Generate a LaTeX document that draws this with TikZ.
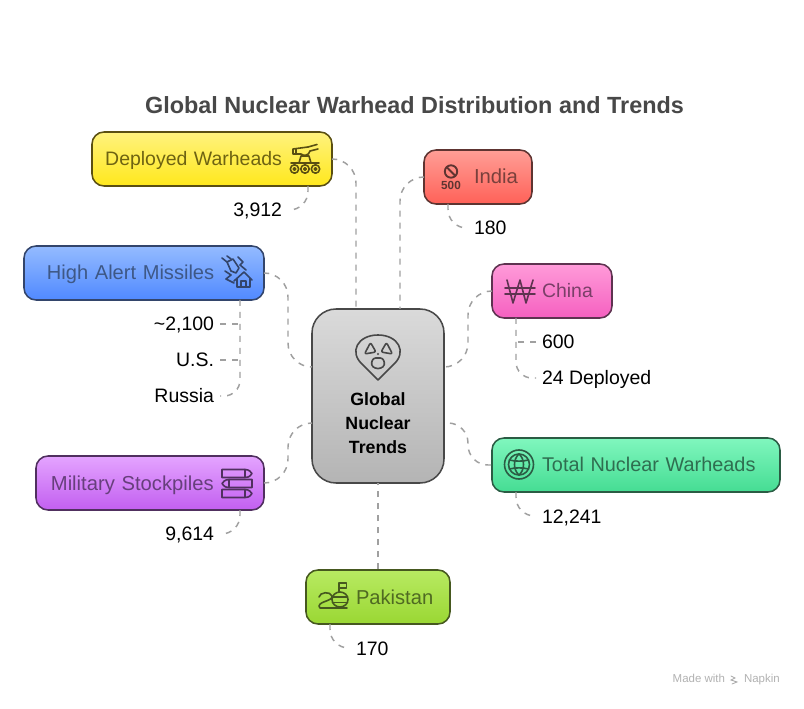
\documentclass[tikz,border=0pt]{standalone}
\usepackage{fontspec}
\setmainfont{Liberation Sans}
\begin{document}
\definecolor{yT}{HTML}{FFF27E}\definecolor{yB}{HTML}{FFE81C}\definecolor{yD}{HTML}{5A4F12}\definecolor{yX}{HTML}{6E6312}
\definecolor{rT}{HTML}{FF9E96}\definecolor{rB}{HTML}{FF6158}\definecolor{rD}{HTML}{5E3431}\definecolor{rX}{HTML}{7A403C}
\definecolor{bT}{HTML}{94BBFF}\definecolor{bB}{HTML}{5089FF}\definecolor{bD}{HTML}{33456B}\definecolor{bX}{HTML}{3E5886}
\definecolor{pT}{HTML}{FF9BD9}\definecolor{pB}{HTML}{F560C0}\definecolor{pD}{HTML}{5E3350}\definecolor{pX}{HTML}{7A3F68}
\definecolor{vT}{HTML}{E4A4FF}\definecolor{vB}{HTML}{C25FF0}\definecolor{vD}{HTML}{50305F}\definecolor{vX}{HTML}{673F7C}
\definecolor{gT}{HTML}{80F7BE}\definecolor{gB}{HTML}{45DC93}\definecolor{gD}{HTML}{2B5C44}\definecolor{gX}{HTML}{2F6E50}
\definecolor{lT}{HTML}{B8EA62}\definecolor{lB}{HTML}{9AD733}\definecolor{lD}{HTML}{46581F}\definecolor{lX}{HTML}{4F6A22}
\definecolor{cT}{HTML}{DADADA}\definecolor{cB}{HTML}{B4B4B4}\definecolor{cD}{HTML}{484848}
\definecolor{conngray}{HTML}{A0A0A0}\definecolor{titlegray}{HTML}{484848}
\tikzset{
  basebox/.style={rectangle,rounded corners=9pt,line width=1.15pt,inner sep=0pt,align=left,
    text height=10.5pt,text depth=0pt,font=\fontsize{14.6}{17}\selectfont},
  tone/.style n args={3}{top color=#1T,bottom color=#1B,draw=#1D,text=#1X,minimum width=#2*0.75pt,minimum height=#3*0.75pt},
  conn/.style={draw=conngray,line width=1.1pt,dash pattern=on 4.5pt off 4.5pt},
  sub/.style={inner sep=0pt,text height=10.5pt,text depth=0pt,font=\fontsize{14.6}{17}\selectfont,text=black},
  subL/.style={sub,anchor=east,outer xsep=4.5pt},
  subR/.style={sub,anchor=west,outer xsep=4.5pt},
  ico/.style={line width=1.2pt,line cap=round,line join=round},
}
\begin{tikzpicture}[x=0.75pt,y=-0.75pt]
\useasboundingbox (0,0) rectangle (804,709);
\fill[white] (0,0) rectangle (804,709);
% ---------- title
\node[inner sep=0pt,text=titlegray,font=\bfseries\fontsize{17.55}{20}\selectfont] (title) at (414.5,105.5) {Global Nuclear Warhead Distribution and Trends};
% ---------- helper coordinates
\coordinate (cTa) at (356,309);
\coordinate (cTb) at (400,309);
\coordinate (cLa) at (312,367);
\coordinate (cLb) at (312,423);
\coordinate (cRa) at (444,367);
\coordinate (cRb) at (444,423);
\coordinate (cBa) at (378,483);
\coordinate (xL) at (288,396);
\coordinate (xR) at (468,396);
\coordinate (depS) at (308,186);
\coordinate (higS) at (240,300);
\coordinate (milS) at (240,510);
\coordinate (indS) at (448,204);
\coordinate (chiS) at (516,318);
\coordinate (totS) at (516,492);
\coordinate (pakS) at (330,624);
% ---------- side labels
\node[subL] (n3912) at (288,210) {3,912};
\node[subL] (n2100) at (220,324) {\textasciitilde 2,100};
\node[subL] (nUS) at (220,360) {U.S.};
\node[subL] (nRu) at (220,396) {Russia};
\node[subL] (n9614) at (220,534) {9,614};
\node[subR] (n180) at (468,228) {180};
\node[subR] (n600) at (536,342) {600};
\node[subR] (n24) at (536,378) {24 Deployed};
\node[subR] (n12) at (536,516) {12,241};
\node[subR] (n170) at (350,648) {170};
% ---------- boxes
\node[basebox,tone={y}{240}{54},text width=180pt] (dep) at (212,159) {\hspace*{9.9pt}Deployed Warheads};
\node[basebox,tone={r}{108}{54},text width=81pt,font=\fontsize{15.2}{17}\selectfont] (ind) at (478,177) {\hspace*{37.5pt}India};
\node[basebox,tone={b}{240}{54},text width=180pt,font=\fontsize{15.05}{17}\selectfont] (hig) at (144,273) {\hspace*{17.2pt}High Alert Missiles};
\node[basebox,tone={p}{120}{54},text width=90pt] (chi) at (552,291) {\hspace*{37.5pt}China};
\node[basebox,tone={v}{228}{54},text width=171pt,font=\fontsize{15.15}{17}\selectfont] (mil) at (150,483) {\hspace*{11.2pt}Military Stockpiles};
\node[basebox,tone={g}{288}{54},text width=216pt,font=\fontsize{14.9}{17}\selectfont] (tot) at (636,465) {\hspace*{37.5pt}Total Nuclear Warheads};
\node[basebox,tone={l}{144}{54},text width=108pt,font=\fontsize{15.1}{17}\selectfont] (pak) at (378,597) {\hspace*{37.5pt}Pakistan};
\node[basebox,rounded corners=18pt,top color=cT,bottom color=cB,draw=cD,text=black,minimum width=99pt,minimum height=130.5pt,text width=99pt,align=center,
  text height={},text depth={},font=\bfseries\fontsize{13.3}{18}\selectfont] (cen) at (378,396) {\rule{0pt}{50pt}Global\\Nuclear\\Trends};
% ---------- connectors hub
\draw[conn,rounded corners=18pt] (dep.east) -| (cTa);
\draw[conn,rounded corners=18pt] (ind.west) -| (cTb);
\draw[conn,rounded corners=18pt] (hig.east) -- (hig.east -| xL) -- (xL |- cLa) -- (cLa);
\draw[conn,rounded corners=18pt] (chi.west) -- (chi.west -| xR) -- (xR |- cRa) -- (cRa);
\draw[conn,rounded corners=18pt] (mil.east) -- (mil.east -| xL) -- (xL |- cLb) -- (cLb);
\draw[conn,rounded corners=15pt] (tot.west) -- (tot.west -| xR) -- (xR |- cRb) -- (cRb);
\draw[conn] (pak.north) -- (cBa);
% ---------- connectors to labels
\draw[conn,rounded corners=14pt] (depS) |- (n3912.east);
\draw[conn,rounded corners=12pt] (higS) |- (nRu.east);
\draw[conn] (n2100.east) -- (n2100.east -| higS);
\draw[conn] (nUS.east) -- (nUS.east -| higS);
\draw[conn,rounded corners=14pt] (milS) |- (n9614.east);
\draw[conn,rounded corners=14pt] (indS) |- (n180.west);
\draw[conn,rounded corners=12pt] (chiS) |- (n24.west);
\draw[conn] (n600.west) -- (n600.west -| chiS);
\draw[conn,rounded corners=14pt] (totS) |- (n12.west);
\draw[conn,rounded corners=14pt] (pakS) |- (n170.west);
% ---------- icon: deployed (tracked cannon)
\begin{scope}[ico,draw=yD]
\draw (294.5,169) circle (4.2) (305,169) circle (4.2) (315.5,169) circle (4.2);
\draw (294.5,169) circle (1.2) (305,169) circle (1.2) (315.5,169) circle (1.2);
\draw (291,163) -- (319,163);
\draw (299,163) -- (301,156) -- (309,156) -- (311,163);
\draw (293,154) -- (293,149) -- (308,147) (293,154) -- (301,154) .. controls (303,156) and (309,156) .. (310,151);
\draw (308,147) -- (317,144.5) (310,151) -- (318,149);
\draw (296,149) -- (296,154);
\end{scope}
% ---------- icon: high alert
\begin{scope}[ico,draw=bD]
\draw (227,262) -- (233,259) -- (239,268) -- (236,273) -- (231,271) -- cycle;
\draw (222,258) -- (227,262) (227,256) -- (231,259);
\draw (238,257) -- (243,262) -- (240,265) -- (246,270);
\draw (225,271) -- (231,275) -- (226,279) -- (234,283);
\draw (234,281) -- (244,272) -- (252,280) (237,279) -- (237,287) -- (250,287) -- (250,278);
\draw (241,287) -- (241,281) -- (246,281) -- (246,287);
\end{scope}
% ---------- icon: centre pin
\begin{scope}[ico,draw=cD]
\draw (378,380) -- (363,365) .. controls (348,352) and (358,335) .. (378,335) .. controls (398,335) and (408,352) .. (393,365) -- cycle;
\draw[rounded corners=1.5pt] (370.5,342.5) -- (376,352) -- (364.5,354) -- cycle;
\draw[rounded corners=1.5pt] (386.5,342.5) -- (381,352) -- (392.5,354) -- cycle;
\draw[rounded corners=2pt] (373,358) -- (383,358) -- (385,365) -- (381,368.5) -- (375,368.5) -- (371,365) -- cycle;
\fill[cD] (378,354) circle (1.2);
\end{scope}
% ---------- icon: India
\begin{scope}[ico,draw=rD]
\draw[line width=1.4pt] (451,171.5) circle (6.2);
\draw[line width=1.4pt] (446.8,167.2) -- (455.2,175.8);
\end{scope}
\node[inner sep=0pt,text=rD,font=\bfseries\fontsize{8.8}{10}\selectfont] (five) at (451,185.5) {500};
% ---------- icon: China (won)
\begin{scope}[ico,draw=pD]
\draw (507,280) -- (513,303) -- (520,280) -- (526,303) -- (533,280);
\draw (505,288) -- (535,288) (505,294) -- (535,294);
\end{scope}
% ---------- icon: military
\begin{scope}[ico,draw=vD]
\draw (222,469.5) -- (245,469.5) .. controls (249,469.5) and (251,472) .. (252,473.5) .. controls (251,475.5) and (249,477.5) .. (245,477.5) -- (222,477.5) -- cycle;
\draw (245,469.5) -- (245,477.5);
\draw (252,479.5) -- (229,479.5) .. controls (225,479.5) and (223,482) .. (222,483.5) .. controls (223,485.5) and (225,487.5) .. (229,487.5) -- (252,487.5) -- cycle;
\draw (229,479.5) -- (229,487.5);
\draw (222,489.5) -- (245,489.5) .. controls (249,489.5) and (251,492) .. (252,493.5) .. controls (251,495.5) and (249,497.5) .. (245,497.5) -- (222,497.5) -- cycle;
\draw (245,489.5) -- (245,497.5);
\end{scope}
% ---------- icon: globe
\begin{scope}[ico,draw=gD]
\draw (519,464.5) circle (14.5);
\draw (519,464.5) circle (10.5);
\draw (519,454) .. controls (513,459) and (513,470) .. (519,475);
\draw (519,454) .. controls (525,459) and (525,470) .. (519,475);
\draw (509.5,460) .. controls (515,461.5) and (523,461.5) .. (528.5,460);
\draw (509.5,469) .. controls (515,467.5) and (523,467.5) .. (528.5,469);
\end{scope}
% ---------- icon: Pakistan
\begin{scope}[ico,draw=lD]
\draw (340,599.5) ellipse (8 and 7.5);
\draw (332.5,597) -- (347.5,597) (332.5,602.5) -- (347.5,602.5);
\draw (339,592) -- (339,583) -- (346.5,583) -- (346.5,588) -- (339,588);
\draw (319,597) .. controls (320,592) and (330,591) .. (332,596) .. controls (333,601) and (320,601) .. (319,606) -- (320,608) -- (347,608);
\end{scope}
% ---------- watermark
\node[inner sep=0pt,anchor=east,text=black!30,font=\fontsize{8.6}{10}\selectfont] (wm) at (780,680) {Made with \hspace{9.5pt} Napkin};
\begin{scope}[line width=0.6pt,draw=black!35,line cap=round]
\draw (731,676) -- (735,678) -- (731,680) -- (737,682) -- (732,684);
\end{scope}
\end{tikzpicture}
\end{document}
